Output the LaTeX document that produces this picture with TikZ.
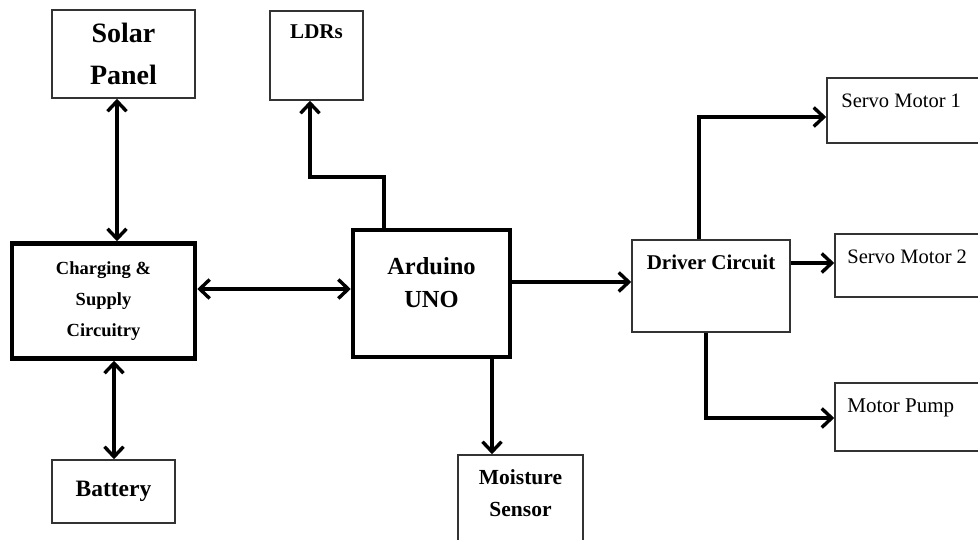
\documentclass[tikz,border=0pt]{standalone}
\usepackage{fontspec}
\setmainfont{Liberation Serif}
\usetikzlibrary{arrows.meta}
\tikzset{
  box/.style={draw=black!80, line width=1.6pt, rectangle, inner sep=0pt, align=center, font=\bfseries},
  thickbox/.style={draw=black, line width=4.5pt, rectangle, inner sep=0pt, align=center, font=\bfseries},
  conn/.style={line width=3.6pt, line cap=butt, line join=miter},
  tip/.style={-{Straight Barb[length=10pt,width=19pt,line width=3.4pt]}},
  dtip/.style={{Straight Barb[length=10pt,width=19pt,line width=3.4pt]}-{Straight Barb[length=10pt,width=19pt,line width=3.4pt]}},
  lbl/.style={inner sep=0pt, align=left}
}
\begin{document}
\begin{tikzpicture}[x=1pt,y=-1pt]
\useasboundingbox (0,0) rectangle (978,540);
\clip (0,0) rectangle (978,540);
% boxes
\node[box, minimum width=143pt, minimum height=88pt, font=\bfseries\fontsize{28}{42}\selectfont] (solar) at (123.5,54) {Solar\\Panel};
\node[box, minimum width=93pt, minimum height=89pt,
  label={[lbl, anchor=north, yshift=-14pt, font=\bfseries\fontsize{21}{24}\selectfont]north:LDRs}] (ldr) at (316.5,55.5) {};
\node[thickbox, minimum width=183pt, minimum height=115pt, font=\bfseries\fontsize{18.5}{31}\selectfont] (charge) at (103.5,301) {Charging \&\\Supply\\Circuitry};
\node[thickbox, minimum width=157pt, minimum height=127pt,
  label={[lbl, align=center, anchor=north, yshift=-30pt, font=\bfseries\fontsize{24.5}{33}\selectfont]north:Arduino\\UNO}] (ard) at (431.5,293.5) {};
\node[box, minimum width=158pt, minimum height=92pt,
  label={[lbl, anchor=north, yshift=-16pt, font=\bfseries\fontsize{21}{24}\selectfont]north:Driver Circuit}] (drv) at (711,286) {};
\node[box, minimum width=163pt, minimum height=65pt,
  label={[lbl, anchor=north west, xshift=15pt, yshift=-17pt, font=\fontsize{20.5}{24}\selectfont]north west:Servo Motor 1}] (s1) at (908.5,110.5) {};
\node[box, minimum width=155pt, minimum height=63pt,
  label={[lbl, anchor=north west, xshift=13pt, yshift=-17pt, font=\fontsize{20.5}{24}\selectfont]north west:Servo Motor 2}] (s2) at (912.5,265.5) {};
\node[box, minimum width=155pt, minimum height=68pt,
  label={[lbl, anchor=north west, xshift=13pt, yshift=-16pt, font=\fontsize{21}{24}\selectfont]north west:Motor Pump}] (pump) at (912.5,417) {};
\node[box, minimum width=123pt, minimum height=63pt, font=\bfseries\fontsize{23.5}{28}\selectfont] (bat) at (113.5,491.5) {Battery};
\node[box, minimum width=125pt, minimum height=90pt,
  label={[lbl, align=center, anchor=north, yshift=-15pt, font=\bfseries\fontsize{21.5}{32}\selectfont]north:Moisture\\Sensor}] (moist) at (520.5,500) {};
% connectors
\draw[conn, dtip] (solar.south -| 117,0) -- (charge.north -| 117,0);
\draw[conn, dtip] (charge.south -| 114,0) -- (bat.north -| 114,0);
\draw[conn, dtip] (charge.east |- 0,289) -- (ard.west |- 0,289);
\draw[conn, tip] (ard.north -| 384,0) -- (384,177) -- (310,177) -- (ldr.south -| 310,0);
\draw[conn, tip] (ard.east |- 0,282) -- (drv.west |- 0,282);
\draw[conn, tip] (ard.south -| 492,0) -- (moist.north -| 492,0);
\draw[conn, tip] (drv.north -| 699,0) -- (699,117) -- (s1.west |- 0,117);
\draw[conn, tip] (drv.east |- 0,263) -- (s2.west |- 0,263);
\draw[conn, tip] (drv.south -| 706,0) -- (706,418) -- (pump.west |- 0,418);
\end{tikzpicture}
\end{document}
